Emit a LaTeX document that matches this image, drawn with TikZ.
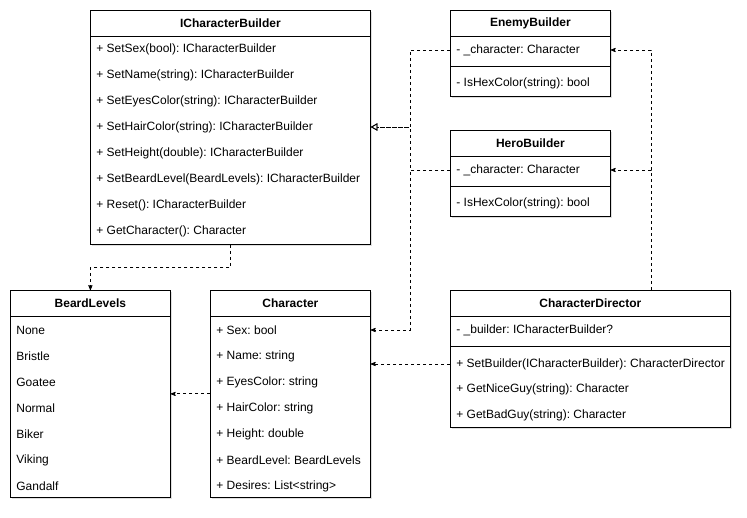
\documentclass[tikz,border=0pt]{standalone}
\usepackage{fontspec}
\setmainfont{Liberation Sans}
\usetikzlibrary{arrows,shadows}
\frenchspacing

\begin{document}
\begin{tikzpicture}[x=1pt,y=-1pt,>=stealth',line width=0.8pt,
                    font=\fontsize{12}{14}\selectfont]
  \tikzstyle{umlbox}=[draw,fill=white,anchor=north west,inner sep=0pt,
                      drop shadow={opacity=0.25,shadow xshift=2pt,shadow yshift=-2pt}]
  \tikzstyle{umlhead}=[draw,anchor=north west,inner sep=0pt,minimum height=26pt,
                       font=\fontsize{12}{14}\selectfont\bfseries]
  \tikzstyle{umlrow}=[anchor=west,inner xsep=6pt,inner ysep=0pt]
  \tikzstyle{dep}=[->,dash pattern=on 3pt off 3pt]
  \tikzstyle{real}=[-open triangle 60,dash pattern=on 3pt off 3pt]

  \useasboundingbox (0,0) rectangle (747,518);

  % ICharacterBuilder
  \node[umlbox,minimum width=280pt,minimum height=234pt] (icb) at (90,10) {};
  \node[umlhead,minimum width=280pt] (icbhead) at (90,10) {ICharacterBuilder};
  \node[umlrow] (icb1) at (90,49)  {+ SetSex(bool): ICharacterBuilder};
  \node[umlrow] (icb2) at (90,75)  {+ SetName(string): ICharacterBuilder};
  \node[umlrow] (icb3) at (90,101) {+ SetEyesColor(string): ICharacterBuilder};
  \node[umlrow] (icb4) at (90,127) {+ SetHairColor(string): ICharacterBuilder};
  \node[umlrow] (icb5) at (90,153) {+ SetHeight(double): ICharacterBuilder};
  \node[umlrow] (icb6) at (90,179) {+ SetBeardLevel(BeardLevels): ICharacterBuilder};
  \node[umlrow] (icb7) at (90,205) {+ Reset(): ICharacterBuilder};
  \node[umlrow] (icb8) at (90,231) {+ GetCharacter(): Character};

  % EnemyBuilder
  \node[umlbox,minimum width=160pt,minimum height=86pt] (eb) at (450,10) {};
  \node[umlhead,minimum width=160pt] (ebhead) at (450,10) {EnemyBuilder};
  \node[umlrow] (eba) at (450,50) {- \_character: Character};
  \draw (450,66) -- (610,66);
  \node[umlrow] (ebm) at (450,83) {- IsHexColor(string): bool};

  % HeroBuilder
  \node[umlbox,minimum width=160pt,minimum height=86pt] (hb) at (450,130) {};
  \node[umlhead,minimum width=160pt] (hbhead) at (450,130) {HeroBuilder};
  \node[umlrow] (hba) at (450,170) {- \_character: Character};
  \draw (450,186) -- (610,186);
  \node[umlrow] (hbm) at (450,203) {- IsHexColor(string): bool};

  % BeardLevels
  \node[umlbox,minimum width=160pt,minimum height=207pt] (bl) at (10,290) {};
  \node[umlhead,minimum width=160pt] (blhead) at (10,290) {BeardLevels};
  \node[umlrow] (bl1) at (10,330) {None};
  \node[umlrow] (bl2) at (10,356) {Bristle};
  \node[umlrow] (bl3) at (10,382) {Goatee};
  \node[umlrow] (bl4) at (10,408) {Normal};
  \node[umlrow] (bl5) at (10,434) {Biker};
  \node[umlrow] (bl6) at (10,460) {Viking};
  \node[umlrow] (bl7) at (10,486) {Gandalf};

  % Character
  \node[umlbox,minimum width=160pt,minimum height=207pt] (ch) at (210,290) {};
  \node[umlhead,minimum width=160pt] (chhead) at (210,290) {Character};
  \node[umlrow] (ch1) at (210,330) {+ Sex: bool};
  \node[umlrow] (ch2) at (210,356) {+ Name: string};
  \node[umlrow] (ch3) at (210,382) {+ EyesColor: string};
  \node[umlrow] (ch4) at (210,408) {+ HairColor: string};
  \node[umlrow] (ch5) at (210,434) {+ Height: double};
  \node[umlrow] (ch6) at (210,460) {+ BeardLevel: BeardLevels};
  \node[umlrow] (ch7) at (210,486) {+ Desires: List<string>};

  % CharacterDirector
  \node[umlbox,minimum width=280pt,minimum height=137pt] (cd) at (450,290) {};
  \node[umlhead,minimum width=280pt] (cdhead) at (450,290) {CharacterDirector};
  \node[umlrow] (cda) at (450,330) {- \_builder: ICharacterBuilder?};
  \draw (450,346) -- (730,346);
  \node[umlrow] (cdm1) at (450,364) {+ SetBuilder(ICharacterBuilder): CharacterDirector};
  \node[umlrow] (cdm2) at (450,389) {+ GetNiceGuy(string): Character};
  \node[umlrow] (cdm3) at (450,415) {+ GetBadGuy(string): Character};

  % connectors
  \coordinate (split) at (410,127);
  \coordinate (rail) at (651,290);
  \draw[real] (eba.west) -| (split) -- (icb.east |- icb4);
  \draw[real] (hba.west) -| (split) -- (icb.east |- icb4);
  \draw[dep] (hba.west) -- (hba.west -| split) |- (ch.east |- ch1);
  \draw[dep] (rail) |- (eb.east |- eba);
  \draw[dep] (rail) |- (hb.east |- hba);
  \draw[dep] (cdm1.west) -- (cdm1.west -| ch.east);
  \draw[dep] (ch.west) -- (ch.west -| bl.east);
  \draw[dep] (icb.south) -- ++(0,23) -| (bl.north);
\end{tikzpicture}
\end{document}
